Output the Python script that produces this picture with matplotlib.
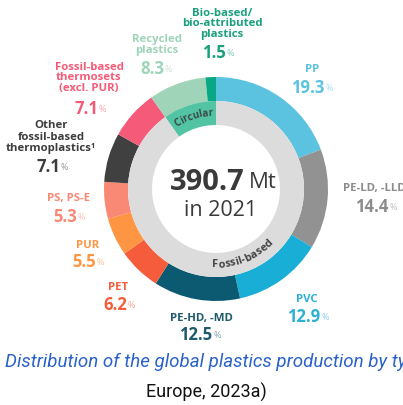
import numpy as np
import matplotlib
matplotlib.use("Agg")
import matplotlib.pyplot as plt
from matplotlib.font_manager import FontProperties
from matplotlib.textpath import text_to_path

# plastics production shares 2021, clockwise from 12 o'clock
names = ["PP", "PE-LD, -LLD", "PVC", "PE-HD, -MD", "PET", "PUR", "PS, PS-E",
         "Other\nfossil-based\nthermoplastics\u00b9",
         "Fossil-based\nthermosets\n(excl. PUR)",
         "Recycled\nplastics", "Bio-based/\nbio-attributed\nplastics"]
shares = [19.3, 14.4, 12.9, 12.5, 6.2, 5.5, 5.3, 7.1, 7.1, 8.3, 1.5]
colors = ["#5bc2df", "#929292", "#19aed5", "#0c5a71", "#f55c3c", "#fd9543",
          "#f98874", "#404040", "#f55b79", "#9fd4b8", "#08a884"]
label_colors = ["#5bc2df", "#8c8c8c", "#2cb0d6", "#1f5a6c", "#f55c3c", "#fd9543",
                "#f98874", "#3d3d3d", "#f55b79", "#9fd4b8", "#1aa07e"]
circular = shares[-2] + shares[-1]
fossil = sum(shares[:-2])
total_mt = "390.7"
year = "2021"

# label anchors in pixel coords (x, y of name, y of value, x of value)
label_pos = [(312, 70, 88, 308), (343, 189, 207, 355), (307, 299, 317, 304),
             (201, 318, 335, 196), (118, 288, 305, 115), (88, 245, 262, 84),
             (69, 199, 217, 65), (51, 137, 167, 48), (89, 78, 109, 86),
             (157, 45, 69, 152), (222, 24, 53, 214)]

W, H = 403, 405
fig = plt.figure(figsize=(W / 100, H / 100), dpi=100)
ax = fig.add_axes([0, 0, 1, 1])
cx, cy = 216, H - 189

ax.pie(shares, colors=colors, startangle=90, counterclock=False,
       radius=112, center=(cx, cy), wedgeprops=dict(width=24, linewidth=0))
ax.pie([circular, fossil], colors=["#52c4a4", "#dcdcdc"], startangle=90,
       counterclock=True, radius=88, center=(cx, cy),
       wedgeprops=dict(width=24, linewidth=0))
ax.set_xlim(0, W)
ax.set_ylim(0, H)
ax.set_aspect("auto")
ax.axis("off")

lab_font = "Open Sans"

for i, name in enumerate(names):
    x, y, yv, xv = label_pos[i]
    ha = "left" if i == 1 else "center"
    ax.text(x, H - y, name, ha=ha, va="center", fontsize=8.2, fontweight="bold",
            color=label_colors[i], family=lab_font, linespacing=1.0)
    t = ax.text(xv, H - yv, f"{shares[i]:.1f}", ha=ha, va="center", fontsize=12,
                fontweight="bold", color=label_colors[i], family=lab_font)
    ax.annotate("%", xy=(1.02, 0.22), xycoords=t, ha="left", va="bottom",
                fontsize=6.5, color=label_colors[i], alpha=0.55, family=lab_font)


def curved_text(s, r, mid_deg, fs, color, top=True):
    fp = FontProperties(family=lab_font, weight="bold", size=fs)
    widths = [text_to_path.get_text_width_height_descent(c, fp, ismath=False)[0] * 100 / 72
              for c in s]
    span = sum(widths) / r
    mid = np.radians(mid_deg)
    pos = 0.0
    for c, w in zip(s, widths):
        a = (pos + w / 2) / r
        ang = mid + span / 2 - a if top else mid - span / 2 + a
        rot = np.degrees(ang) - 90 if top else np.degrees(ang) + 90
        ax.text(cx + r * np.cos(ang), cy + r * np.sin(ang), c, fontproperties=fp,
                color=color, rotation=rot, rotation_mode="anchor",
                ha="center", va="center")
        pos += w


curved_text("Circular", 76, 107.5, 7.2, "#3c4a48", top=True)
curved_text("Fossil-based", 76, -68, 7.8, "#444444", top=False)

# total in the centre
t = ax.text(245, H - 182, total_mt, ha="right", va="center", fontsize=21,
            fontweight="bold", color="#3a3a3a", family=lab_font)
ax.annotate("Mt", xy=(1.0, 0.5), xytext=(4, 0), textcoords="offset pixels",
            xycoords=t, ha="left", va="center",
            fontsize=16, color="#3a3a3a", family=lab_font)
ax.text(221, H - 210, "in " + year, ha="center", va="center", fontsize=15.5,
        color="#3a3a3a", family=lab_font)

ax.text(5, H - 362, "Distribution of the global plastics production by type (Plastics",
        ha="left", va="center", fontsize=13.5, style="italic", color="#2a62c9",
        family="Roboto")
ax.text(206, H - 392, "Europe, 2023a)", ha="center", va="center", fontsize=13,
        color="#111111", family="Roboto")

fig.savefig("out.png", dpi=100)
